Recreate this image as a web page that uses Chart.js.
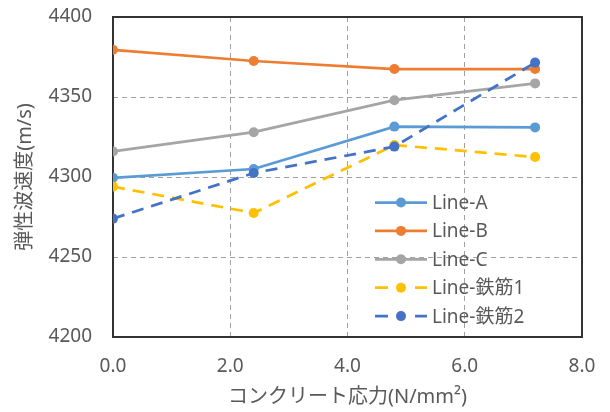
<!DOCTYPE html>
<html>
<head>
<meta charset="utf-8">
<script src="https://cdn.jsdelivr.net/npm/chart.js@4/dist/chart.umd.min.js"></script>
<style>
  html, body { margin: 0; padding: 0; background: #ffffff; }
  #wrap { width: 610px; height: 412px; }
</style>
</head>
<body>
<div id="wrap"><canvas id="c" width="610" height="412"></canvas></div>
<script>
// Concrete stress (N/mm²) at each measurement step
const stress = [0, 2.4, 4.8, 7.2];

// Elastic wave velocity (m/s) per measurement line
const lineA  = [4299.5, 4305, 4331.5, 4331];
const lineB  = [4379.5, 4372.5, 4367.5, 4367.5];
const lineC  = [4316, 4328, 4348, 4358.5];
const rebar1 = [4294, 4277.5, 4320, 4312.5];
const rebar2 = [4274, 4302.5, 4319, 4371.5];

const seriesNames = ['Line-A', 'Line-B', 'Line-C', 'Line-鉄筋1', 'Line-鉄筋2'];
const seriesValues = [lineA, lineB, lineC, rebar1, rebar2];
const seriesColors = ['#5B9BD5', '#ED7D31', '#A5A5A5', '#FFC000', '#4472C4'];
const seriesDashed = [false, false, false, true, true];

const xTicks = [0, 2, 4, 6, 8];
const yTicks = [4200, 4250, 4300, 4350, 4400];

const FONT = "'Noto Sans', 'Noto Sans CJK JP', sans-serif";
const TEXT = '#595959';
const DASH = [12, 8];

const datasets = seriesNames.map((name, i) => ({
  label: name,
  data: stress.map((x, j) => ({ x: x, y: seriesValues[i][j] })),
  borderColor: seriesColors[i],
  backgroundColor: seriesColors[i],
  pointBackgroundColor: seriesColors[i],
  pointBorderColor: seriesColors[i],
  pointBorderWidth: 0,
  pointRadius: 5,
  borderWidth: 2.75,
  borderDash: seriesDashed[i] ? DASH : [],
  tension: 0,
  fill: false,
  order: seriesNames.length - i   // later series sit on top
}));

// Solid frame around the plot area, drawn beneath the series
const frame = {
  id: 'frame',
  beforeDatasetsDraw(chart) {
    const { ctx, chartArea: a } = chart;
    ctx.save();
    ctx.strokeStyle = '#333333';
    ctx.lineWidth = 2;
    ctx.strokeRect(a.left, a.top, a.right - a.left, a.bottom - a.top);
    ctx.restore();
  }
};

// Legend placed inside the plot area, lower right
const innerLegend = {
  id: 'innerLegend',
  afterDatasetsDraw(chart) {
    const { ctx, chartArea: a } = chart;
    const x0 = a.left + 262;
    const y0 = a.top + 185.5;
    const rowH = 28.4;
    ctx.save();
    ctx.font = '19px ' + FONT;
    ctx.textBaseline = 'middle';
    ctx.textAlign = 'left';
    chart.data.datasets.forEach((ds, i) => {
      const y = y0 + i * rowH;
      ctx.strokeStyle = ds.borderColor;
      ctx.lineWidth = 2.75;
      ctx.setLineDash([]);
      ctx.beginPath();
      if (ds.borderDash && ds.borderDash.length) {
        ctx.moveTo(x0, y); ctx.lineTo(x0 + 13, y);
        ctx.moveTo(x0 + 40, y); ctx.lineTo(x0 + 52, y);
      } else {
        ctx.moveTo(x0, y); ctx.lineTo(x0 + 52, y);
      }
      ctx.stroke();
      ctx.fillStyle = ds.pointBackgroundColor;
      ctx.beginPath();
      ctx.arc(x0 + 26, y, 5, 0, Math.PI * 2);
      ctx.fill();
      ctx.fillStyle = TEXT;
      ctx.fillText(ds.label, x0 + 57, y + 1);
    });
    ctx.restore();
  }
};

new Chart(document.getElementById('c'), {
  type: 'line',
  data: { datasets },
  options: {
    responsive: false,
    animation: false,
    devicePixelRatio: 1,
    layout: { padding: { top: 17, right: 28, bottom: 0, left: 0 } },
    plugins: {
      legend: { display: false },
      tooltip: { enabled: false },
      title: { display: false }
    },
    scales: {
      x: {
        type: 'linear',
        min: xTicks[0],
        max: xTicks[xTicks.length - 1],
        afterBuildTicks(scale) { scale.ticks = xTicks.map(v => ({ value: v })); },
        afterFit(scale) {
          scale.height = 75;
          scale.paddingLeft = 0;
          scale.paddingRight = 0;
        },
        ticks: {
          callback: v => Number(v).toFixed(1),
          color: TEXT,
          font: { family: FONT, size: 19 },
          padding: 18,
          maxRotation: 0
        },
        grid: {
          drawTicks: false,
          color: c => (c.tick && (c.tick.value === xTicks[0] || c.tick.value === xTicks[xTicks.length - 1])) ? 'rgba(0,0,0,0)' : '#a0a0a0',
          lineWidth: 1
        },
        border: { display: false, dash: [5, 4] },
        title: {
          display: true,
          text: 'コンクリート応力(N/mm²)',
          color: TEXT,
          font: { family: FONT, size: 20 },
          padding: { top: 0, bottom: 3 }
        }
      },
      y: {
        type: 'linear',
        min: yTicks[0],
        max: yTicks[yTicks.length - 1],
        afterBuildTicks(scale) { scale.ticks = yTicks.map(v => ({ value: v })); },
        afterFit(scale) {
          scale.width = 113;
          scale.paddingTop = 0;
          scale.paddingBottom = 0;
        },
        ticks: {
          callback: v => String(v),
          color: TEXT,
          font: { family: FONT, size: 19 },
          padding: 21
        },
        grid: {
          drawTicks: false,
          color: c => (c.tick && (c.tick.value === yTicks[0] || c.tick.value === yTicks[yTicks.length - 1])) ? 'rgba(0,0,0,0)' : '#a0a0a0',
          lineWidth: 1
        },
        border: { display: false, dash: [5, 4] },
        title: {
          display: true,
          text: '弾性波速度(m/s)',
          color: TEXT,
          font: { family: FONT, size: 20 },
          padding: { top: 13, bottom: 0 }
        }
      }
    }
  },
  plugins: [frame, innerLegend]
});
</script>
</body>
</html>
